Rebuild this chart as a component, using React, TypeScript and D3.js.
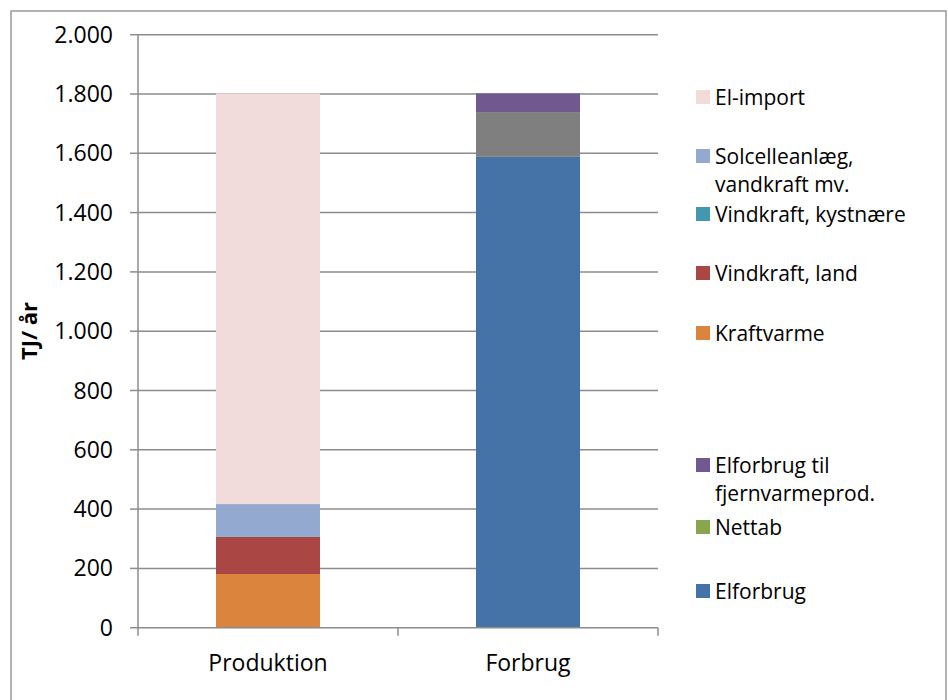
import React from "react";
import * as d3 from "d3";

const categories = ["Produktion", "Forbrug"];

// stack order, bottom to top
const seriesNames = [
  "Elforbrug",
  "Nettab",
  "Elforbrug til fjernvarmeprod.",
  "Kraftvarme",
  "Vindkraft, land",
  "Vindkraft, kystnære",
  "Solcelleanlæg, vandkraft mv.",
  "El-import",
];
const elforbrug = [0, 1588];
const nettab = [0, 151];
const elforbrugFjv = [0, 63];
const kraftvarme = [181, 0];
const vindLand = [125, 0];
const vindKyst = [0, 0];
const solcelle = [111, 0];
const elImport = [1385, 0];
const seriesValues = [elforbrug, nettab, elforbrugFjv, kraftvarme, vindLand, vindKyst, solcelle, elImport];

const yTicks = [0, 200, 400, 600, 800, 1000, 1200, 1400, 1600, 1800, 2000];

const colors: Record<string, string> = {
  "Elforbrug": "#4572A7",
  "Nettab": "#89A54E",
  "Elforbrug til fjernvarmeprod.": "#71588F",
  "Kraftvarme": "#DB843D",
  "Vindkraft, land": "#AA4643",
  "Vindkraft, kystnære": "#4198AF",
  "Solcelleanlæg, vandkraft mv.": "#93A9CF",
  "El-import": "#F2DCDB",
};
// individual point fill override (Nettab in Forbrug drawn grey)
const pointColor: Record<string, string> = { "Nettab|Forbrug": "#7F7F7F" };

// legend entries top to bottom with their lines and vertical centers
const legendItems = [
  { key: "El-import", lines: ["El-import"], y: 97 },
  { key: "Solcelleanlæg, vandkraft mv.", lines: ["Solcelleanlæg,", "vandkraft mv."], y: 156 },
  { key: "Vindkraft, kystnære", lines: ["Vindkraft, kystnære"], y: 214 },
  { key: "Vindkraft, land", lines: ["Vindkraft, land"], y: 273 },
  { key: "Kraftvarme", lines: ["Kraftvarme"], y: 333 },
  { key: "Elforbrug til fjernvarmeprod.", lines: ["Elforbrug til", "fjernvarmeprod."], y: 465 },
  { key: "Nettab", lines: ["Nettab"], y: 527 },
  { key: "Elforbrug", lines: ["Elforbrug"], y: 591 },
];

const FONT = "'Open Sans', 'Noto Sans', sans-serif";
const GRID = "#8C8C8C";

export default function App() {
  const left = 138, right = 658, top = 34.7, bottom = 627.7;
  const x = d3.scaleBand<string>().domain(categories).range([left, right]).paddingInner(0.6).paddingOuter(0.3);
  const y = d3.scaleLinear().domain([0, 2000]).range([bottom, top]);

  const table = categories.map((c, i) => {
    const row: Record<string, any> = { cat: c };
    seriesNames.forEach((s, j) => (row[s] = seriesValues[j][i]));
    return row;
  });
  const stacked = d3.stack<any>().keys(seriesNames)(table);

  return (
    <svg width={948} height={700} style={{ position: "absolute", left: 0, top: 0, background: "#fff" }} fontFamily={FONT}>
      <rect x={11} y={11} width={935} height={700} fill="#fff" stroke="#8A8A8A" strokeWidth={1.3} />
      {/* gridlines */}
      {yTicks.filter((t) => t > 0).map((t) => (
        <line key={"g" + t} x1={left} x2={right} y1={y(t)} y2={y(t)} stroke={GRID} strokeWidth={1.5} />
      ))}
      {/* bars */}
      {stacked.map((layer) =>
        layer.map((d, i) => {
          const cat = categories[i];
          const h = y(d[0]) - y(d[1]);
          if (h <= 0) return null;
          const fill = pointColor[layer.key + "|" + cat] || colors[layer.key];
          return <rect key={layer.key + cat} x={x(cat)} y={y(d[1])} width={x.bandwidth()} height={h} fill={fill} />;
        })
      )}
      {/* y axis */}
      <line x1={left} x2={left} y1={top} y2={bottom} stroke={GRID} strokeWidth={1.5} />
      {yTicks.map((t) => (
        <g key={"t" + t}>
          <line x1={left - 8} x2={left} y1={y(t)} y2={y(t)} stroke={GRID} strokeWidth={1.5} />
          <text x={113} y={y(t) + 8} textAnchor="end" fontSize={23} fill="#000">
            {d3.format(",")(t).replace(/,/g, ".")}
          </text>
        </g>
      ))}
      {/* x axis */}
      <line x1={left} x2={right} y1={bottom} y2={bottom} stroke={GRID} strokeWidth={1.5} />
      {[left, left + (right - left) / 2, right].map((v, i) => (
        <line key={"xt" + i} x1={v} x2={v} y1={bottom} y2={bottom + 8} stroke={GRID} strokeWidth={1.5} />
      ))}
      {categories.map((c) => (
        <text key={c} x={(x(c) as number) + x.bandwidth() / 2} y={671} textAnchor="middle" fontSize={23} fill="#000">
          {c}
        </text>
      ))}
      {/* y title */}
      <text transform="translate(37,331) rotate(-90)" textAnchor="middle" fontSize={22} fontWeight="bold" fill="#000">
        TJ/ år
      </text>
      {/* legend */}
      {legendItems.map((it) => (
        <g key={it.key}>
          <rect x={696} y={it.y - 7} width={14} height={14} fill={colors[it.key]} />
          {it.lines.map((ln, k) => (
            <text key={k} x={715} y={it.y + 7.5 + k * 28} fontSize={21} fill="#000">
              {ln}
            </text>
          ))}
        </g>
      ))}
    </svg>
  );
}
